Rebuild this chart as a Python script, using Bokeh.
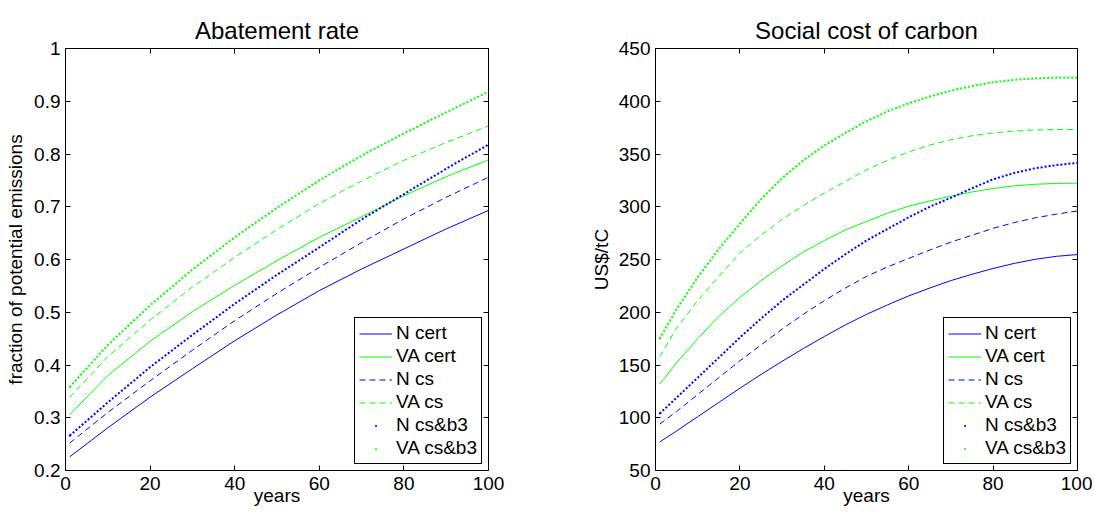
import numpy as np
from bokeh.plotting import figure
from bokeh.layouts import row
from bokeh.models import (Range1d, LinearAxis, FixedTicker, PrintfTickFormatter,
                          Legend, LegendItem)
from bokeh.embed import file_html
from bokeh.resources import INLINE

# ---------------- data ----------------
series_names = ["N cert", "VA cert", "N cs", "VA cs", "N cs&b3", "VA cs&b3"]

# Abatement rate (fraction of potential emissions)
abate_years = [1, 10, 20, 30, 40, 50, 60, 70, 80, 90, 100]
abate_n_cert = [0.226, 0.281, 0.339, 0.393, 0.446, 0.495, 0.541, 0.582, 0.620, 0.658, 0.693]
abate_va_cert = [0.306, 0.380, 0.445, 0.501, 0.551, 0.598, 0.642, 0.681, 0.721, 0.757, 0.789]
abate_n_cs = [0.252, 0.310, 0.370, 0.428, 0.484, 0.536, 0.585, 0.632, 0.677, 0.718, 0.756]
abate_va_cs = [0.339, 0.416, 0.485, 0.548, 0.604, 0.657, 0.706, 0.749, 0.788, 0.822, 0.853]
abate_n_csb3 = [0.266, 0.329, 0.396, 0.457, 0.516, 0.571, 0.623, 0.676, 0.724, 0.772, 0.818]
abate_va_csb3 = [0.358, 0.438, 0.513, 0.581, 0.642, 0.698, 0.750, 0.797, 0.839, 0.879, 0.918]

# Social cost of carbon (US$/tC)
scc_years = [1, 5, 10, 15, 20, 25, 30, 35, 40, 45, 50, 55, 60, 65, 70, 75, 80, 85, 90, 95, 100]
scc_n_cert = [77, 87.5, 101, 114.5, 128, 141, 153.5, 165.5, 177, 188, 198, 207, 215.5,
              223, 230, 236, 241.5, 246.3, 250.2, 253, 254.7]
scc_va_cert = [132, 152, 175, 196, 214, 230, 244, 257, 268, 278, 286, 294, 300.5,
               305.5, 310, 314, 317.3, 319.8, 321.3, 322.1, 322.4]
scc_n_cs = [94, 106, 122, 138, 154, 169, 184, 198, 211, 223, 234, 243, 251,
            259, 266.5, 273, 279.5, 285, 289.5, 293, 296]
scc_va_cs = [158, 185, 211, 234, 256, 273, 288, 301, 313, 324, 335, 344, 352,
             358.5, 363.5, 367.3, 370, 371.8, 372.8, 373.2, 373.2]
scc_n_csb3 = [104, 119, 138, 157, 176, 194, 211, 226, 241, 255, 268, 279, 290,
              300, 308.5, 317.5, 326, 332, 336.5, 339.5, 341.6]
scc_va_csb3 = [175, 203, 233, 260, 284, 307, 327, 344, 358, 370, 381, 390.5, 398,
               404.5, 410, 414.5, 418, 420.3, 421.7, 422.4, 422.3]

x_ticks = [0, 20, 40, 60, 80, 100]
abate_ticks = [0.2, 0.3, 0.4, 0.5, 0.6, 0.7, 0.8, 0.9, 1.0]
scc_ticks = [50, 100, 150, 200, 250, 300, 350, 400, 450]

# ---------------- styling ----------------
FONT = "Liberation Sans"
BLUE = "#0000ff"
GREEN = "#00ff00"
styles = [
    (BLUE, "solid", 1),
    (GREEN, "solid", 1),
    (BLUE, "6 4", 1),
    (GREEN, "6 4", 1),
    (BLUE, "2 2", 2),
    (GREEN, "2 2", 2),
]


def style_axis(ax, ticks, show_labels=True):
    ax.ticker = FixedTicker(ticks=ticks)
    ax.formatter = PrintfTickFormatter(format="%g")
    ax.axis_line_color = "black"
    ax.major_tick_line_color = "black"
    ax.major_tick_in = 5
    ax.major_tick_out = 0
    ax.minor_tick_line_color = None
    ax.major_label_text_font = FONT
    if show_labels:
        ax.major_label_text_color = "black"
        ax.major_label_text_font_size = "19px"
        ax.major_label_standoff = 5
    else:
        ax.major_label_text_color = None
        ax.major_label_text_font_size = "1px"
        ax.major_label_standoff = 0
        ax.axis_line_color = None
    ax.axis_label_text_font = FONT
    ax.axis_label_text_font_size = "19px"
    ax.axis_label_text_font_style = "normal"
    ax.axis_label_text_color = "black"


def make_fig(title, ylabel, yr, yticks, xs, data, width, bl, br, ystand):
    p = figure(width=width, height=512, output_backend="svg", toolbar_location=None,
               x_range=Range1d(0, 100), y_range=Range1d(*yr),
               min_border_left=bl, min_border_right=br,
               min_border_top=48, min_border_bottom=42)
    p.title.text = title
    p.title.align = "center"
    p.title.text_font = FONT
    p.title.text_font_size = "24px"
    p.title.text_font_style = "normal"
    p.title.text_color = "black"
    p.title.standoff = 10
    p.xgrid.visible = False
    p.ygrid.visible = False
    p.outline_line_color = "black"
    p.outline_line_alpha = 1
    p.outline_line_width = 1
    p.background_fill_color = "white"

    style_axis(p.xaxis[0], x_ticks)
    p.xaxis[0].axis_label = "years"
    p.xaxis[0].major_label_standoff = 6
    p.xaxis[0].axis_label_standoff = -8
    style_axis(p.yaxis[0], yticks)
    p.yaxis[0].axis_label = ylabel
    p.yaxis[0].axis_label_standoff = ystand

    top = LinearAxis()
    style_axis(top, x_ticks, show_labels=False)
    p.add_layout(top, "above")
    right = LinearAxis()
    style_axis(right, yticks, show_labels=False)
    p.add_layout(right, "right")

    items = []
    for name, vals, (c, dash, w) in zip(series_names, data, styles):
        r = p.line(xs, vals, line_color=c, line_dash=dash, line_width=w,
                   line_join="round")
        if dash == "2 2":
            m = p.scatter(xs[:1], vals[:1], marker="dot", size=8,
                          fill_color=c, line_color=c)
            items.append(LegendItem(label=name, renderers=[m]))
        else:
            items.append(LegendItem(label=name, renderers=[r]))

    legend = Legend(items=items, location="bottom_right", margin=6,
                    padding=4, spacing=1, label_height=21, glyph_height=21,
                    glyph_width=33, label_standoff=4,
                    label_text_font=FONT, label_text_font_size="19px",
                    label_text_color="black",
                    border_line_color="black", border_line_width=1, border_line_alpha=1,
                    background_fill_color="white", background_fill_alpha=1)
    p.add_layout(legend)
    return p


p1 = make_fig("Abatement rate", "fraction of potential emissions", (0.2, 1.0), abate_ticks,
              abate_years,
              [abate_n_cert, abate_va_cert, abate_n_cs, abate_va_cs, abate_n_csb3, abate_va_csb3],
              580, 65, 92, 5)
p2 = make_fig("Social cost of carbon", "US$/tC", (50, 450), scc_ticks,
              scc_years,
              [scc_n_cert, scc_va_cert, scc_n_cs, scc_va_cs, scc_n_csb3, scc_va_csb3],
              512, 75, 15, 4)

layout = row(p1, p2)
open("out.html", "w").write(file_html(layout, INLINE))
